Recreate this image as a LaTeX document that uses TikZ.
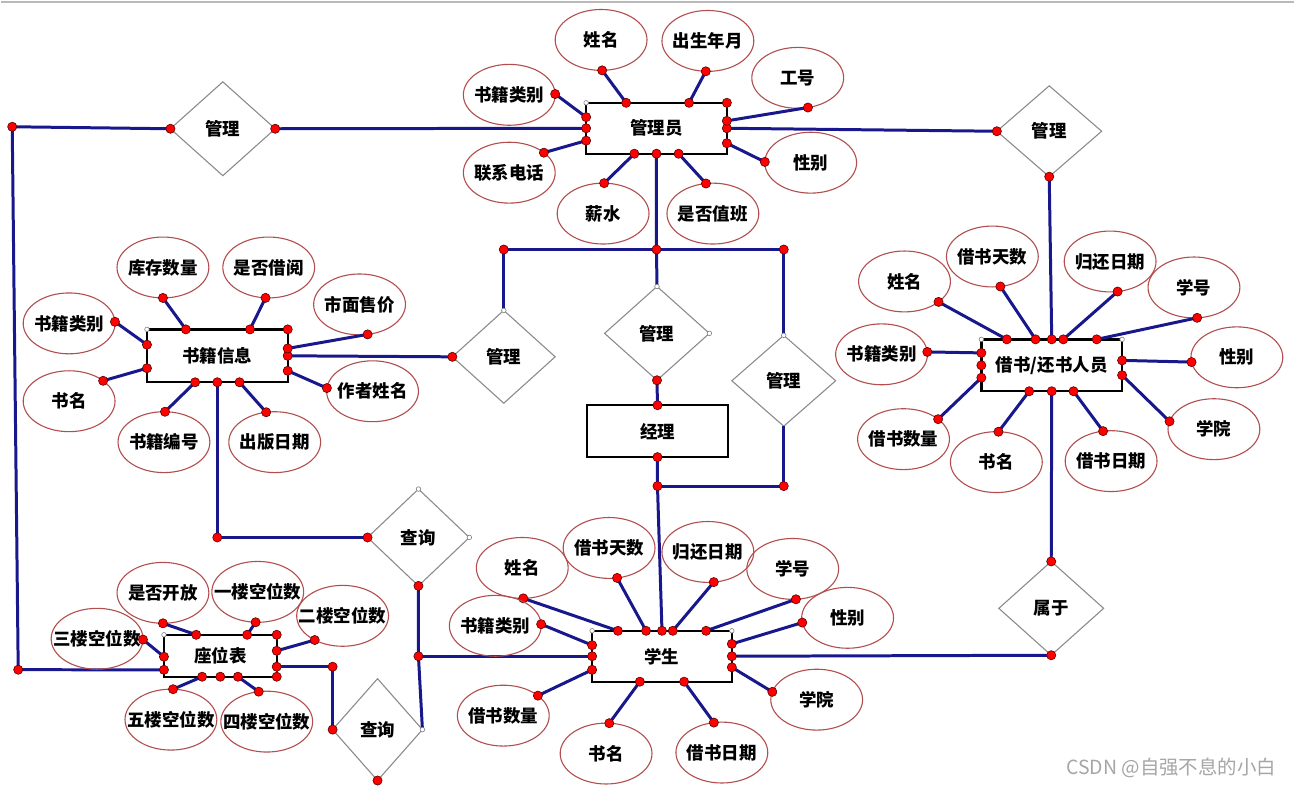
\documentclass[tikz,border=0pt]{standalone}
\usepackage{fontspec}
\setmainfont{Noto Sans CJK SC}
\usepackage{tikz}
\usetikzlibrary{shapes.geometric}

\definecolor{linkblue}{RGB}{24,24,140}
\definecolor{ellred}{RGB}{178,78,78}
\definecolor{diagray}{RGB}{140,140,140}

\tikzset{
  ent/.style={draw=black, line width=2.4pt, minimum width=141pt, minimum height=51pt,
    inner sep=0pt, outer sep=0pt, font=\fontsize{17.5pt}{19pt}\selectfont\bfseries},
  attr/.style={ellipse, draw=ellred, line width=1.1pt, minimum width=92pt, minimum height=61pt,
    inner sep=0pt, outer sep=0pt, font=\fontsize{17.5pt}{19pt}\selectfont\bfseries},
  rel/.style={diamond, draw=diagray, line width=1.1pt, minimum width=105pt, minimum height=94pt,
    inner sep=0pt, outer sep=0pt, font=\fontsize{17.5pt}{19pt}\selectfont\bfseries},
  link/.style={draw=linkblue, line width=3pt},
  rdot/.style={fill=red, draw=red!35!black, line width=0.6pt},
  hdot/.style={fill=white, draw=gray, line width=0.6pt}
}

\begin{document}
\begin{tikzpicture}[x=1pt,y=-1pt]
  \fill[white] (0,0) rectangle (1295,788);
  \draw[gray!55, line width=2.5pt] (0,2) -- (1295,2);

  % entities
  \node[ent] (mgr) at (656.5,128.5) {管理员};
  \node[ent, minimum height=53pt] (book) at (216.5,356.5) {书籍信息};
  \node[ent, minimum height=52pt] (boss) at (657.5,432) {经理};
  \node[ent, minimum height=52pt] (reader) at (1052.5,366) {借书/还书人员};
  \node[ent, minimum width=140pt] (stu) at (662,657.5) {学生};
  \node[ent, minimum width=113pt, minimum height=42pt] (seat) at (219.5,657) {座位表};

  % relations
  \node[rel] (r1) at (222,129) {\makebox[0pt]{管理}};
  \node[rel, minimum height=91pt] (r2) at (1050,131.5) {\makebox[0pt]{管理}};
  \node[rel, minimum width=103pt, minimum height=93pt] (r3) at (503.5,357.5) {\makebox[0pt]{管理}};
  \node[rel] (r4) at (657,334) {\makebox[0pt]{管理}};
  \node[rel, minimum width=104pt, minimum height=91pt] (r5) at (784,381.5) {\makebox[0pt]{管理}};
  \node[rel, minimum width=102pt, minimum height=97pt] (r6) at (418,538.5) {\makebox[0pt]{查询}};
  \node[rel, minimum width=90pt, minimum height=102pt] (r7) at (377,731) {\makebox[0pt]{查询}};
  \node[rel] (r8) at (1052,609.5) {\makebox[0pt]{属于}};

  \coordinate (lt) at (11,127);
  \coordinate (lb) at (17,671);
  \coordinate (j1) at (656.5,250);
  \coordinate (j2) at (657.5,487);
  \coordinate (j3) at (r6.south |- stu.west);

  % relation lines
  \draw[link] (mgr.west) -- (r1.east);
  \draw[link] (r1.west) -- (lt) -- (lb) -- (seat.194);
  \draw[link] (mgr.east) -- (r2.west);
  \draw[link] (r2.south) -- (reader.north);
  \draw[link] (reader.south) -- (r8.north);
  \draw[link] (r8.south) -- (stu.east);
  \draw[link] (mgr.south) -- (j1) -- (r4.north);
  \draw[link] (j1) -| (r3.north);
  \draw[link] (j1) -| (r5.north);
  \draw[link] (book.east) -- (r3.west);
  \draw[link] (r4.south) -- (boss.north);
  \draw[link] (boss.south) -- (j2) -- (stu.north);
  \draw[link] (j2) -| (r5.south);
  \draw[link] (book.south) |- (r6.west);
  \draw[link] (r6.south) -- (j3) -- (r7.east);
  \draw[link] (j3) -- (stu.west);
  \draw[link] (seat.-11) -| (r7.west);

  \foreach \p in {mgr.west, r1.east, r1.west, lt, lb, seat.194, mgr.east, r2.west,
      r2.south, reader.north, reader.south, r8.north, r8.south, stu.east, mgr.south, j1,
      r4.south, boss.north, boss.south, j2, stu.north, book.east, r3.west, book.south,
      r6.west, r6.south, j3, stu.west, seat.-11, r7.west, r7.south,
      mgr.north east, book.north east, reader.west, seat.north east, seat.south east, seat.south,
      r3.north |- j1, r5.north |- j1, r5.south |- j2, book.south |- r6.west, r7.west |- seat.-11}
    \filldraw[rdot] (\p) circle[radius=4.6pt];
  \foreach \p in {r3.north, r4.north, r5.north, r4.east, r6.north, r6.east, r7.east,
      mgr.north west, book.north west, reader.north west, reader.north east,
      stu.north west, stu.north east, seat.north west}
    \filldraw[hdot] (\p) circle[radius=2.3pt];

  % attributes of 管理员
  \foreach \cx/\cy/\txt/\ax/\ay/\bx/\by [count=\k] in {
      601/40/姓名/602/70/626/103, 708/41/出生年月/706/71/689/103,
      798/78/工号/808/107/727/121, 811/163/性别/767/162/727/144,
      713/214/是否值班/706/183/679/154, 603/214/薪水/604/184/634/154,
      509/173/联系电话/543/153/586/141, 509/95/书籍类别/554/94/586/117}
  {
    \node[attr] (mgr-\k) at (\cx,\cy) {\makebox[0pt]{\txt}};
    \pgfmathtruncatemacro{\angE}{round(atan2(\cy-\ay,\ax-\cx))}
    \pgfmathtruncatemacro{\angR}{round(atan2(128.5-\by,\bx-656.5))}
    \draw[link] (mgr-\k.\angE) -- (mgr.\angR);
    \filldraw[rdot] (mgr-\k.\angE) circle[radius=4.6pt];
    \filldraw[rdot] (mgr.\angR) circle[radius=4.6pt];
  }

  % attributes of 书籍信息
  \foreach \cx/\cy/\txt/\ax/\ay/\bx/\by [count=\k] in {
      162/268/库存数量/162/298/185/330, 268/268/是否借阅/265/298/249/330,
      359/305/市面售价/367/335/287/349, 372/392/作者姓名/326/389/287/372,
      274/443/出版日期/265/411/239/383, 163/443/书籍编号/164/412/194/383,
      68/402/书名/103/381/146/369, 68/324/书籍类别/114/322/146/345}
  {
    \node[attr] (book-\k) at (\cx,\cy) {\makebox[0pt]{\txt}};
    \pgfmathtruncatemacro{\angE}{round(atan2(\cy-\ay,\ax-\cx))}
    \pgfmathtruncatemacro{\angR}{round(atan2(356.5-\by,\bx-216.5))}
    \draw[link] (book-\k.\angE) -- (book.\angR);
    \filldraw[rdot] (book-\k.\angE) circle[radius=4.6pt];
    \filldraw[rdot] (book.\angR) circle[radius=4.6pt];
  }

  % attributes of 借书/还书人员
  \foreach \cx/\cy/\txt/\ax/\ay/\bx/\by [count=\k] in {
      905/282/姓名/938/302/1007/340, 993/257/借书天数/1001/287/1036/340,
      1111/262/归还日期/1118/291/1064/340, 1195/288/学号/1198/318/1098/340,
      1238/358/性别/1194/363/1123/361, 1215/430/学院/1171/422/1123/376,
      1112/462/借书日期/1104/433/1074/392, 997/463/书名/999/433/1030/392,
      904/440/借书数量/938/420/982/378, 882/355/书籍类别/927/353/982/354}
  {
    \node[attr] (rdr-\k) at (\cx,\cy) {\makebox[0pt]{\txt}};
    \pgfmathtruncatemacro{\angE}{round(atan2(\cy-\ay,\ax-\cx))}
    \pgfmathtruncatemacro{\angR}{round(atan2(366-\by,\bx-1052.5))}
    \draw[link] (rdr-\k.\angE) -- (reader.\angR);
    \filldraw[rdot] (rdr-\k.\angE) circle[radius=4.6pt];
    \filldraw[rdot] (reader.\angR) circle[radius=4.6pt];
  }

  % attributes of 学生
  \foreach \cx/\cy/\txt/\ax/\ay/\bx/\by [count=\k] in {
      522/569/姓名/523/598/617/632, 609/549/借书天数/617/578/646/632,
      708/553/归还日期/714/583/673/632, 793/570/学号/796/600/707/632,
      848/619/性别/804/624/732/645, 817/701/学院/773/693/732/668,
      722/754/借书日期/714/724/684/683, 606/755/书名/609/725/640/683,
      503/717/借书数量/537/697/592/671, 495/627/书籍类别/541/625/592/646}
  {
    \node[attr] (stu-\k) at (\cx,\cy) {\makebox[0pt]{\txt}};
    \pgfmathtruncatemacro{\angE}{round(atan2(\cy-\ay,\ax-\cx))}
    \pgfmathtruncatemacro{\angR}{round(atan2(657.5-\by,\bx-662))}
    \draw[link] (stu-\k.\angE) -- (stu.\angR);
    \filldraw[rdot] (stu-\k.\angE) circle[radius=4.6pt];
    \filldraw[rdot] (stu.\angR) circle[radius=4.6pt];
  }

  % attributes of 座位表
  \foreach \cx/\cy/\txt/\ax/\ay/\bx/\by [count=\k] in {
      162/594/是否开放/162/625/195/636, 257/593/一楼空位数/255/623/246/636,
      342/617/二楼空位数/313/642/276/652, 266/723/四楼空位数/258/693/237/678,
      170/721/五楼空位数/172/691/201/678, 96/640/三楼空位数/142/641/163/658}
  {
    \node[attr] (seat-\k) at (\cx,\cy) {\makebox[0pt]{\txt}};
    \pgfmathtruncatemacro{\angE}{round(atan2(\cy-\ay,\ax-\cx))}
    \pgfmathtruncatemacro{\angR}{round(atan2(657-\by,\bx-219.5))}
    \draw[link] (seat-\k.\angE) -- (seat.\angR);
    \filldraw[rdot] (seat-\k.\angE) circle[radius=4.6pt];
    \filldraw[rdot] (seat.\angR) circle[radius=4.6pt];
  }

  \node[text=gray!70, font=\fontsize{19.5pt}{21pt}\selectfont, anchor=east] (mark) at (1281,769) {CSDN @自强不息的小白};
\end{tikzpicture}
\end{document}
